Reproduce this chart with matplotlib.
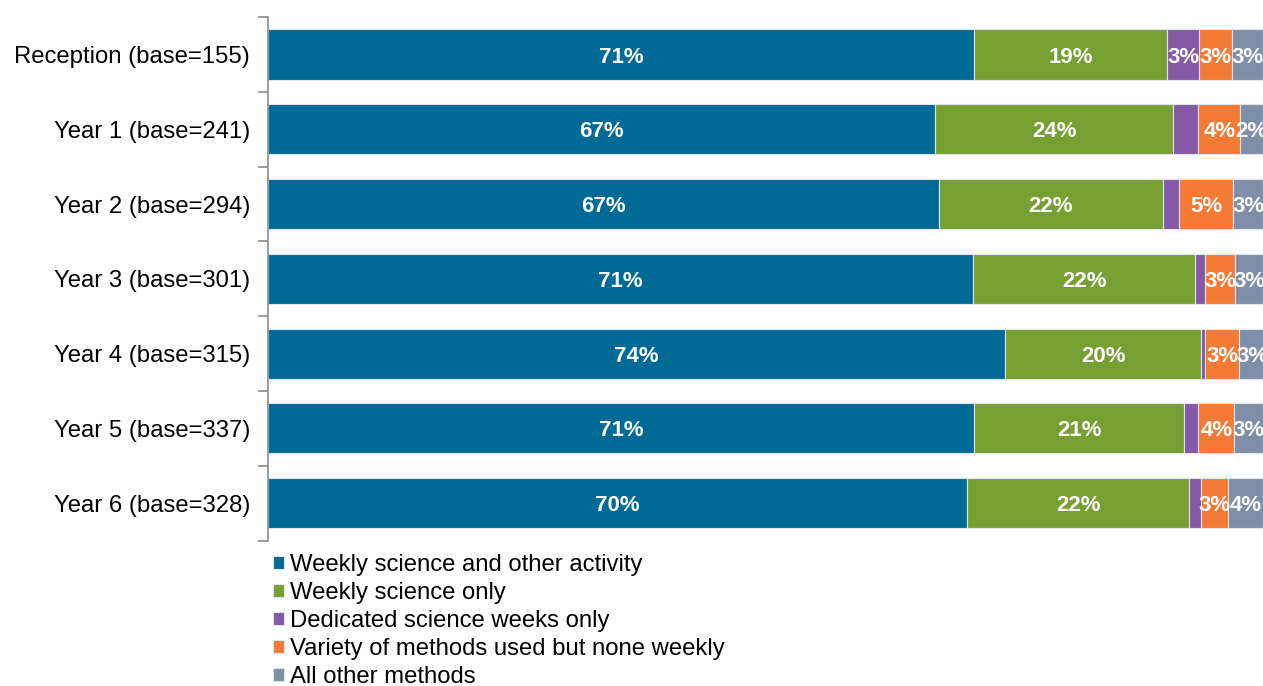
import matplotlib
matplotlib.use("Agg")
import matplotlib.pyplot as plt
import numpy as np

plt.rcParams['font.family'] = ['Liberation Sans', 'DejaVu Sans']

# Categories (top to bottom) and the share of each delivery method (%)
categories = ["Reception (base=155)", "Year 1 (base=241)", "Year 2 (base=294)",
              "Year 3 (base=301)", "Year 4 (base=315)", "Year 5 (base=337)",
              "Year 6 (base=328)"]
weekly_and_other = [71.0, 67.0, 67.4, 70.9, 74.1, 71.0, 70.3]
weekly_only = [19.4, 24.0, 22.5, 22.3, 19.7, 21.1, 22.3]
science_weeks = [3.2, 2.5, 1.7, 1.0, 0.4, 1.4, 1.2]
variety = [3.3, 4.2, 5.4, 3.0, 3.4, 3.6, 2.7]
other = [3.1, 2.3, 3.0, 2.8, 2.6, 2.9, 3.5]

series_names = ["Weekly science and other activity", "Weekly science only",
                "Dedicated science weeks only",
                "Variety of methods used but none weekly", "All other methods"]
colors = ["#006A96", "#77A032", "#8559A5", "#F47B35", "#7F8FA9"]
min_label = [2, 2, 3, 2, 2]

series = [weekly_and_other, weekly_only, science_weeks, variety, other]

fig = plt.figure(figsize=(12.63, 6.86), dpi=100)
ax = fig.add_axes([0.2122, 0.212, 0.7878, 0.763])

y = np.arange(len(categories))
left = np.zeros(len(categories))
for name, vals, col, thr in zip(series_names, series, colors, min_label):
    vals = np.array(vals)
    bars = ax.barh(y, vals, left=left, height=0.67, color=col,
                   edgecolor="#dfe3ea", linewidth=0.8, label=name)
    for b, v, l in zip(bars, vals, left):
        if v >= thr:
            ax.text(l + v / 2, b.get_y() + b.get_height() / 2, f"{v:.0f}%",
                    ha="center", va="center_baseline", color="white",
                    fontsize=16, fontweight="bold")
    left += vals

ax.set_xlim(0, 100)
ax.set_ylim(len(categories) - 0.5, -0.5)
ax.set_yticks(y)
ax.set_yticklabels(categories, fontsize=17.2)
ax.tick_params(axis="y", which="major", length=0, pad=13)
ax.set_yticks(np.arange(-0.5, len(categories)), minor=True)
ax.tick_params(axis="y", which="minor", length=7, color="#8c8c8c", width=1.2)
ax.set_xticks([])
for s in ["top", "right", "bottom"]:
    ax.spines[s].set_visible(False)
ax.spines["left"].set_color("#8c8c8c")
ax.spines["left"].set_linewidth(1.2)

fig.legend(loc="upper left", bbox_to_anchor=(0.216, 0.192), frameon=False,
           fontsize=17.2, handlelength=0.48, handleheight=0.48,
           handletextpad=0.25, labelspacing=0.25, borderaxespad=0,
           borderpad=0)

fig.savefig("out.png", dpi=100)
